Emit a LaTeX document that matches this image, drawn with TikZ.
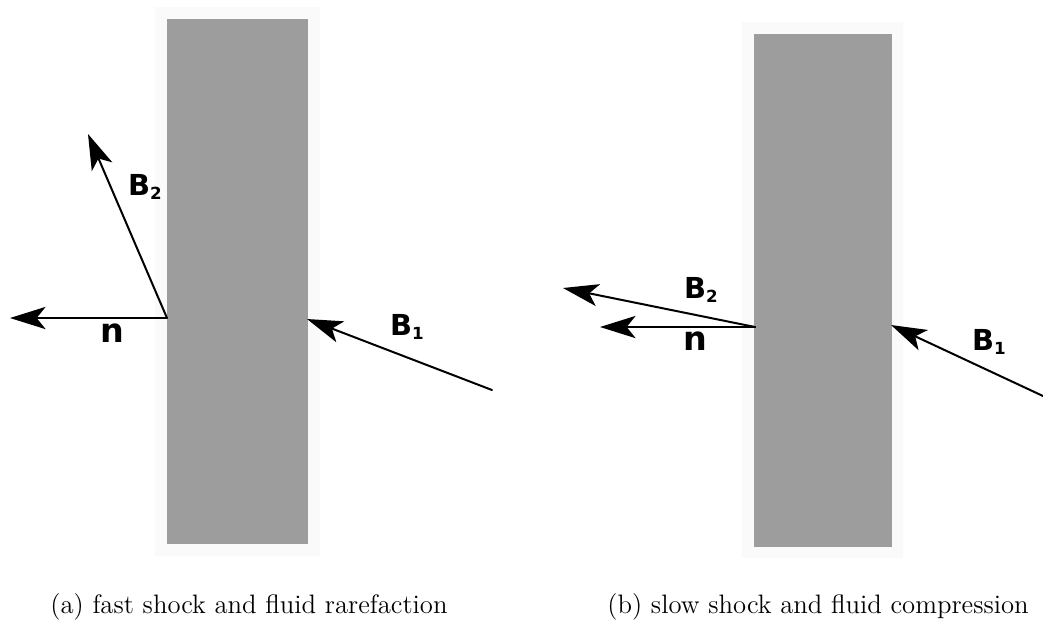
\documentclass[tikz,border=0pt]{standalone}
\usepackage{fontspec}
\usetikzlibrary{arrows.meta}
\newfontfamily\vecfont{DejaVu Sans}
\definecolor{shockgray}{RGB}{157,157,157}
\definecolor{shockhalo}{RGB}{250,250,250}
\newcommand{\fieldB}[1]{B\raisebox{-1.5pt}{\fontsize{7.5}{8}\selectfont#1}}
\tikzset{
  every picture/.append style={line cap=round,line join=round},
  shock halo/.style={fill=shockhalo},
  shock layer/.style={fill=shockgray},
  shock field/.style={line width=0.9pt,-{Stealth[length=16pt,width=10pt,inset=4pt]}},
  shock vec/.style={font=\vecfont\bfseries\fontsize{13}{15}\selectfont,inner sep=0pt},
  shock normal/.style={font=\vecfont\bfseries\fontsize{15}{17}\selectfont,inner sep=0pt},
  shock caption/.style={anchor=base west,inner sep=0pt,font=\fontsize{12}{14}\selectfont}
}

\begin{document}
\begin{tikzpicture}[x=0.45pt, y=-0.45pt, >=Stealth]
  \useasboundingbox (0,0) rectangle (1043,626);
  \fill[shock halo] (155,7) rectangle (320,556);
  \fill[shock layer] (167,19) rectangle (308,544);
  \coordinate (oa) at (167,318);
  \coordinate (na) at (10,318);
  \coordinate (ba) at (88,134);
  \coordinate (ia) at (307,319);
  \coordinate (ta) at (492,390);
  \draw[shock field] (oa) -- (na);
  \draw[shock field] (oa) -- (ba);
  \draw[shock field] (ta) -- (ia);
  \node[shock vec] (b2a) at (145,187) {\fieldB{2}};
  \node[shock normal] (nla) at (112,333) {n};
  \node[shock vec] (b1a) at (407,327) {\fieldB{1}};
  \node[shock caption] (capa) at (50,613) {(a) fast shock and fluid rarefaction};

  \fill[shock halo] (742,22) rectangle (903,558);
  \fill[shock layer] (754,34) rectangle (892,547);
  \coordinate (ob) at (755,327);
  \coordinate (nb) at (600,327);
  \coordinate (bb) at (563,288);
  \coordinate (ib) at (891,325);
  \coordinate (tb) at (1043,396);
  \draw[shock field] (ob) -- (nb);
  \draw[shock field] (ob) -- (bb);
  \draw[shock field] (tb) -- (ib);
  \node[shock vec] (b2b) at (701,290) {\fieldB{2}};
  \node[shock normal] (nlb) at (695,341) {n};
  \node[shock vec] (b1b) at (989,342) {\fieldB{1}};
  \node[shock caption] (capb) at (607,613) {(b) slow shock and fluid compression};
\end{tikzpicture}
\end{document}
